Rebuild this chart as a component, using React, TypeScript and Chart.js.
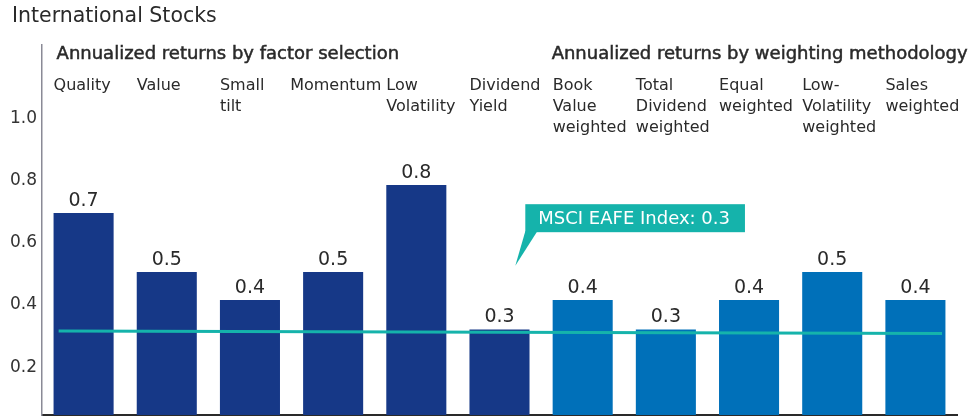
import React, { useEffect, useRef } from "react";
import { Chart, registerables } from "chart.js";

Chart.register(...registerables);

// ---------- data ----------
const chartTitle = "International Stocks";
const categories: string[][] = [
  ["Quality"],
  ["Value"],
  ["Small", "tilt"],
  ["Momentum"],
  ["Low", "Volatility"],
  ["Dividend", "Yield"],
  ["Book", "Value", "weighted"],
  ["Total", "Dividend", "weighted"],
  ["Equal", "weighted"],
  ["Low-", "Volatility", "weighted"],
  ["Sales", "weighted"],
];
const groups = [0, 0, 0, 0, 0, 0, 1, 1, 1, 1, 1];
const groupTitles = [
  "Annualized returns by factor selection",
  "Annualized returns by weighting methodology",
];
const returns = [0.69, 0.5, 0.41, 0.5, 0.78, 0.315, 0.41, 0.315, 0.41, 0.5, 0.41];
const yTickValues = [0.2, 0.4, 0.6, 0.8, 1.0];
const benchmarkName = "MSCI EAFE Index";
const benchmarkValue = 0.3;
const benchmarkLine = [
  { x: 0.2, y: 0.31 },
  { x: 10.82, y: 0.3025 },
];

// ---------- styles ----------
const FONT = '"DejaVu Sans", "Open Sans", sans-serif';
const TEXT = "#2a2a2a";
const groupColors = ["#163887", "#0070b9"];
const TEAL = "#15b3ab";

const overlayPlugin = {
  id: "overlay",
  afterDatasetsDraw(chart: any) {
    const ctx = chart.ctx;
    const meta = chart.getDatasetMeta(0);
    const yScale = chart.scales.y;
    const x2 = chart.scales.x2;
    ctx.save();

    // value labels
    ctx.fillStyle = TEXT;
    ctx.font = `19px ${FONT}`;
    ctx.textAlign = "center";
    ctx.textBaseline = "middle";
    meta.data.forEach((bar: any, i: number) => {
      ctx.fillText(returns[i].toFixed(1), bar.x, bar.y - 12);
    });

    // callout
    const tipX = x2.getPixelForValue(5.69);
    const tipY = yScale.getPixelForValue(0.52);
    const boxLeft = tipX + 10;
    const boxTop = yScale.getPixelForValue(0.718);
    const boxH = 28;
    const label = `${benchmarkName}: ${benchmarkValue.toFixed(1)}`;
    ctx.font = `18px ${FONT}`;
    const tw = ctx.measureText(label).width;
    const boxW = tw + 28;
    ctx.fillStyle = TEAL;
    ctx.fillRect(boxLeft, boxTop, boxW, boxH);
    ctx.beginPath();
    ctx.moveTo(boxLeft, boxTop + boxH - 1);
    ctx.lineTo(boxLeft + 12, boxTop + boxH - 1);
    ctx.lineTo(tipX, tipY);
    ctx.closePath();
    ctx.fill();
    ctx.fillStyle = "#ffffff";
    ctx.textAlign = "left";
    ctx.fillText(label, boxLeft + 13, boxTop + boxH / 2 + 1);

    ctx.restore();
  },
  afterDraw(chart: any) {
    const ctx = chart.ctx;
    const area = chart.chartArea;
    const meta = chart.getDatasetMeta(0);
    ctx.save();
    ctx.fillStyle = TEXT;
    ctx.strokeStyle = TEXT;
    ctx.textBaseline = "middle";
    ctx.textAlign = "left";

    // title
    ctx.font = `20.5px ${FONT}`;
    ctx.fillText(chartTitle, 12, 17);

    // group titles (slightly heavier)
    ctx.font = `18px ${FONT}`;
    ctx.lineWidth = 0.5;
    groupTitles.forEach((t, g) => {
      const first = groups.indexOf(g);
      const bar: any = meta.data[first];
      const x = bar.x - bar.width / 2 + (g === 0 ? 3 : -1);
      ctx.fillText(t, x, area.top + 9);
      ctx.strokeText(t, x, area.top + 9);
    });

    // category labels
    ctx.font = `16px ${FONT}`;
    const slot = (area.right - area.left) / categories.length;
    meta.data.forEach((bar: any, i: number) => {
      const lines = categories[i];
      const left = bar.x - bar.width / 2;
      const w = Math.max(...lines.map((l) => ctx.measureText(l).width));
      let x = left;
      if (w > slot - 5) x = left + slot - 5 - w;
      lines.forEach((l, k) => {
        ctx.fillText(l, x, area.top + 41 + k * 21);
      });
    });
    ctx.restore();
  },
};

export default function App() {
  const ref = useRef<HTMLCanvasElement | null>(null);
  useEffect(() => {
    if (!ref.current) return;
    const chart = new Chart(ref.current, {
      type: "bar",
      data: {
        labels: categories.map((c) => c.join(" ")),
        datasets: [
          {
            type: "bar",
            data: returns,
            backgroundColor: groups.map((g) => groupColors[g]),
            barPercentage: 0.722,
            categoryPercentage: 1,
            grouped: false,
            xAxisID: "x",
            order: 2,
          } as any,
          {
            type: "line",
            data: benchmarkLine as any,
            xAxisID: "x2",
            borderColor: TEAL,
            borderWidth: 3,
            pointRadius: 0,
            fill: false,
            order: 1,
          } as any,
        ],
      },
      options: {
        animation: false,
        responsive: false,
        maintainAspectRatio: false,
        layout: { padding: { top: 45, right: 22, bottom: 3, left: 0 } },
        plugins: { legend: { display: false }, tooltip: { enabled: false } },
        scales: {
          x: {
            type: "category",
            offset: true,
            grid: { display: false },
            ticks: { display: false },
            border: { display: true, color: "#2a2a2a", width: 2 },
            afterFit: (s: any) => {
              s.height = 0;
              s.paddingLeft = 0;
              s.paddingRight = 0;
            },
          },
          x2: {
            type: "linear",
            display: false,
            offset: false,
            min: 0,
            max: 11,
            grid: { offset: false },
          },
          y: {
            min: 0.04,
            max: 1.23,
            afterBuildTicks: (s: any) => {
              s.ticks = yTickValues.map((v) => ({ value: v }));
            },
            ticks: {
              callback: (v: any) => Number(v).toFixed(1),
              font: { family: FONT, size: 17 },
              color: "#333333",
              padding: 5,
              labelOffset: 2,
            },
            grid: { display: false, drawTicks: false },
            border: { display: true, color: "#8a8a96", width: 1.5 },
            afterFit: (s: any) => {
              s.width = 42;
              s.paddingTop = 0;
              s.paddingBottom = 0;
            },
          },
        } as any,
      },
      plugins: [overlayPlugin],
    });
    return () => chart.destroy();
  }, []);
  return (
    <div style={{ position: "absolute", left: 0, top: 0, width: 979, height: 418, background: "#fff" }}>
      <canvas ref={ref} width={979} height={418} style={{ display: "block" }} />
    </div>
  );
}
